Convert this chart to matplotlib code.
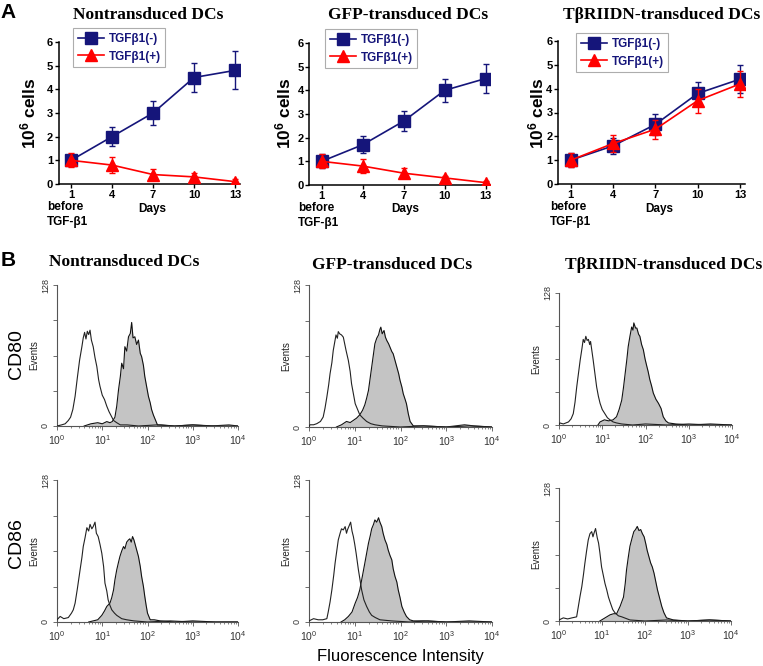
import numpy as np
import matplotlib
matplotlib.use('Agg')
import matplotlib.pyplot as plt
from matplotlib.lines import Line2D
from matplotlib.ticker import LogLocator, NullFormatter

plt.rcParams['font.family'] = ['Liberation Sans', 'DejaVu Sans']
plt.rcParams['mathtext.fontset'] = 'custom'
plt.rcParams['mathtext.rm'] = 'Liberation Sans'
plt.rcParams['mathtext.bf'] = 'Liberation Sans:bold'
plt.rcParams['mathtext.it'] = 'Liberation Sans:italic'

# ---------------- DATA: panel A (growth curves) ----------------
DAYS = [1, 4, 7, 10, 13]
A_TITLES = ["Nontransduced DCs", "GFP-transduced DCs", "TβRIIDN-transduced DCs"]
LEGEND_LABELS = ["TGFβ1(-)", "TGFβ1(+)"]

NT_NEG = [1.0, 2.0, 3.0, 4.5, 4.8]
NT_NEG_ERR = [0.25, 0.4, 0.5, 0.6, 0.8]
NT_POS = [1.0, 0.8, 0.4, 0.3, 0.1]
NT_POS_ERR = [0.3, 0.35, 0.25, 0.15, 0.1]

GFP_NEG = [1.0, 1.7, 2.7, 4.0, 4.5]
GFP_NEG_ERR = [0.3, 0.36, 0.42, 0.5, 0.6]
GFP_POS = [1.0, 0.8, 0.5, 0.3, 0.1]
GFP_POS_ERR = [0.3, 0.3, 0.2, 0.1, 0.08]

DN_NEG = [1.0, 1.6, 2.5, 3.8, 4.4]
DN_NEG_ERR = [0.3, 0.35, 0.45, 0.5, 0.6]
DN_POS = [1.0, 1.7, 2.3, 3.5, 4.2]
DN_POS_ERR = [0.3, 0.35, 0.4, 0.5, 0.55]

# ---------------- DATA: panel B (flow histograms, log10 intensity vs events) ----------------
B_TITLES = ["Nontransduced DCs", "GFP-transduced DCs", "TβRIIDN-transduced DCs"]
B_ROWS = ["CD80", "CD86"]
X_TICK_LABELS = [r"$10^{0}$", r"$10^{1}$", r"$10^{2}$", r"$10^{3}$", r"$10^{4}$"]

NT_CD80_OPEN_L = [0.00, 0.10, 0.18, 0.25, 0.30, 0.35, 0.40, 0.45, 0.50, 0.55, 0.58, 0.61, 0.64, 0.67, 0.70, 0.73, 0.76, 0.80, 0.84, 0.88, 0.92, 0.95, 1.00, 1.05, 1.10, 1.15, 1.20, 1.25, 1.32, 1.40, 1.55, 1.80, 2.20, 2.60, 3.00, 3.40, 3.80, 4.00]
NT_CD80_OPEN_C = [0, 1, 2, 5, 8, 15, 27, 44, 60, 72, 80, 85, 79, 86, 83, 87, 78, 72, 62, 54, 42, 36, 28, 24, 18, 13, 9, 5, 3, 1, 1, 0, 1, 0, 1, 0, 1, 0]
NT_CD80_FILL_L = [0.60, 0.75, 0.90, 1.00, 1.10, 1.17, 1.22, 1.28, 1.32, 1.36, 1.40, 1.43, 1.47, 1.50, 1.54, 1.58, 1.62, 1.65, 1.68, 1.72, 1.76, 1.80, 1.84, 1.87, 1.91, 1.94, 1.98, 2.02, 2.06, 2.09, 2.13, 2.17, 2.22, 2.30, 2.60, 3.00, 3.50, 4.00]
NT_CD80_FILL_C = [0, 2, 3, 2, 4, 3, 4, 8, 18, 33, 45, 57, 52, 72, 68, 81, 84, 94, 80, 81, 74, 78, 66, 63, 55, 45, 36, 27, 21, 15, 10, 6, 1, 1, 0, 1, 0, 0]

NT_CD86_OPEN_L = [0.00, 0.07, 0.15, 0.25, 0.32, 0.36, 0.40, 0.45, 0.51, 0.55, 0.58, 0.62, 0.66, 0.70, 0.73, 0.77, 0.80, 0.84, 0.87, 0.91, 0.95, 0.99, 1.03, 1.06, 1.10, 1.13, 1.17, 1.21, 1.27, 1.32, 1.43, 1.54, 1.70, 2.00, 2.50, 3.00, 3.50, 4.00]
NT_CD86_OPEN_C = [2, 5, 3, 4, 8, 11, 17, 30, 47, 58, 68, 76, 85, 82, 88, 84, 86, 90, 80, 77, 70, 62, 50, 35, 28, 20, 15, 11, 8, 6, 3, 2, 1, 0, 1, 0, 0, 0]
NT_CD86_FILL_L = [0.70, 0.80, 0.90, 0.99, 1.05, 1.10, 1.17, 1.21, 1.25, 1.28, 1.32, 1.36, 1.39, 1.43, 1.47, 1.50, 1.54, 1.58, 1.61, 1.64, 1.67, 1.70, 1.72, 1.76, 1.80, 1.84, 1.87, 1.91, 1.94, 1.97, 2.00, 2.06, 2.15, 2.28, 2.60, 3.00, 3.50, 4.00]
NT_CD86_FILL_C = [0, 1, 2, 6, 10, 14, 17, 22, 29, 38, 47, 54, 59, 64, 68, 66, 72, 74, 75, 72, 77, 74, 71, 65, 59, 50, 41, 32, 23, 15, 8, 2, 2, 1, 0, 1, 0, 0]

GFP_CD80_OPEN_L = [0.00, 0.02, 0.10, 0.17, 0.25, 0.31, 0.35, 0.39, 0.43, 0.46, 0.50, 0.53, 0.56, 0.59, 0.62, 0.64, 0.67, 0.71, 0.75, 0.78, 0.81, 0.86, 0.90, 0.93, 0.97, 1.01, 1.06, 1.11, 1.18, 1.26, 1.35, 1.44, 1.60, 2.00, 2.50, 3.00, 3.40, 3.60, 4.00]
GFP_CD80_OPEN_C = [0, 2, 2, 3, 5, 9, 17, 27, 38, 48, 58, 69, 76, 83, 80, 86, 84, 83, 81, 75, 69, 60, 50, 39, 30, 21, 16, 11, 8, 5, 3, 2, 1, 0, 1, 0, 2, 1, 0]
GFP_CD80_FILL_L = [0.60, 0.71, 0.82, 0.90, 0.97, 1.04, 1.11, 1.17, 1.22, 1.26, 1.30, 1.34, 1.37, 1.41, 1.44, 1.48, 1.52, 1.55, 1.57, 1.60, 1.64, 1.67, 1.70, 1.74, 1.77, 1.81, 1.84, 1.88, 1.92, 1.96, 1.99, 2.03, 2.06, 2.10, 2.13, 2.17, 2.21, 2.28, 2.50, 3.00, 3.50, 4.00]
GFP_CD80_FILL_C = [0, 2, 5, 4, 6, 8, 11, 15, 20, 26, 33, 45, 54, 66, 75, 80, 83, 88, 90, 84, 87, 81, 78, 75, 72, 68, 66, 60, 54, 48, 42, 36, 30, 25, 21, 12, 5, 1, 1, 0, 1, 0]

GFP_CD86_OPEN_L = [0.00, 0.10, 0.20, 0.30, 0.39, 0.42, 0.46, 0.50, 0.54, 0.57, 0.61, 0.64, 0.68, 0.71, 0.75, 0.79, 0.82, 0.84, 0.88, 0.91, 0.94, 0.97, 1.00, 1.03, 1.08, 1.15, 1.20, 1.26, 1.32, 1.37, 1.45, 1.55, 1.80, 2.20, 2.60, 3.00, 3.50, 4.00]
GFP_CD86_OPEN_C = [1, 3, 2, 2, 3, 9, 18, 29, 42, 53, 65, 74, 80, 84, 83, 86, 80, 83, 87, 90, 82, 77, 70, 62, 47, 29, 20, 14, 9, 6, 4, 2, 1, 0, 1, 0, 0, 0]
GFP_CD86_FILL_L = [0.70, 0.78, 0.86, 0.94, 1.01, 1.06, 1.11, 1.17, 1.22, 1.26, 1.30, 1.34, 1.37, 1.41, 1.44, 1.48, 1.52, 1.55, 1.59, 1.62, 1.66, 1.70, 1.73, 1.77, 1.81, 1.84, 1.88, 1.92, 1.95, 1.99, 2.03, 2.08, 2.13, 2.20, 2.28, 2.50, 3.00, 3.50, 4.00]
GFP_CD86_FILL_C = [0, 2, 5, 9, 17, 22, 29, 42, 53, 62, 71, 78, 84, 88, 92, 90, 94, 90, 86, 80, 74, 70, 65, 60, 56, 48, 41, 36, 29, 22, 14, 9, 5, 2, 1, 1, 0, 1, 0]

DN_CD80_OPEN_L = [0.00, 0.02, 0.10, 0.22, 0.28, 0.33, 0.37, 0.41, 0.45, 0.49, 0.53, 0.56, 0.59, 0.62, 0.65, 0.68, 0.71, 0.73, 0.76, 0.79, 0.83, 0.87, 0.91, 0.95, 1.00, 1.06, 1.12, 1.18, 1.25, 1.33, 1.45, 1.70, 2.00, 2.50, 3.00, 3.50, 4.00]
DN_CD80_OPEN_C = [0, 2, 1, 3, 6, 11, 22, 37, 50, 63, 74, 83, 80, 86, 82, 83, 78, 81, 72, 63, 50, 37, 28, 21, 15, 11, 7, 5, 3, 2, 1, 0, 1, 0, 1, 0, 0]
DN_CD80_FILL_L = [0.90, 0.95, 1.05, 1.15, 1.25, 1.33, 1.39, 1.45, 1.49, 1.53, 1.57, 1.60, 1.64, 1.68, 1.71, 1.73, 1.77, 1.80, 1.84, 1.87, 1.91, 1.95, 1.99, 2.03, 2.06, 2.10, 2.14, 2.18, 2.24, 2.30, 2.36, 2.41, 2.47, 2.53, 2.70, 3.00, 3.50, 4.00]
DN_CD80_FILL_C = [0, 3, 5, 4, 5, 8, 15, 24, 36, 50, 64, 76, 86, 95, 92, 99, 94, 94, 88, 86, 78, 73, 64, 57, 52, 44, 38, 31, 25, 21, 16, 8, 4, 2, 1, 0, 1, 0]

DN_CD86_OPEN_L = [0.00, 0.10, 0.20, 0.30, 0.41, 0.45, 0.49, 0.53, 0.57, 0.60, 0.64, 0.68, 0.72, 0.76, 0.79, 0.81, 0.85, 0.89, 0.92, 0.95, 0.99, 1.03, 1.07, 1.11, 1.15, 1.19, 1.25, 1.30, 1.38, 1.46, 1.65, 2.00, 2.50, 3.00, 3.50, 4.00]
DN_CD86_OPEN_C = [1, 3, 2, 3, 4, 14, 24, 33, 45, 55, 67, 78, 84, 86, 81, 84, 89, 80, 75, 66, 52, 44, 36, 30, 23, 18, 11, 8, 5, 4, 1, 0, 1, 0, 1, 0]
DN_CD86_FILL_L = [0.95, 1.07, 1.19, 1.27, 1.34, 1.42, 1.50, 1.54, 1.57, 1.61, 1.65, 1.70, 1.74, 1.78, 1.82, 1.86, 1.90, 1.94, 1.98, 2.02, 2.05, 2.09, 2.13, 2.17, 2.21, 2.25, 2.29, 2.34, 2.39, 2.44, 2.50, 2.58, 2.66, 3.00, 3.50, 4.00]
DN_CD86_FILL_C = [0, 3, 6, 7, 7, 14, 23, 36, 49, 61, 72, 80, 86, 88, 91, 87, 88, 84, 81, 74, 68, 62, 56, 52, 46, 38, 30, 22, 14, 8, 3, 2, 1, 0, 1, 0]

# ---------------- figure ----------------
W, H = 763, 666
fig = plt.figure(figsize=(W / 100, H / 100), dpi=100)


def px_axes(left, top, right, bottom):
    return fig.add_axes([left / W, 1 - bottom / H, (right - left) / W, (bottom - top) / H])


def ftext(x, y, s, **kw):
    return fig.text(x / W, 1 - y / H, s, **kw)


NAVY = '#15157a'
RED = '#ff0000'
SERIF = ['Liberation Serif', 'DejaVu Serif']

A_SERIES = [
    (NT_NEG, NT_NEG_ERR, NT_POS, NT_POS_ERR),
    (GFP_NEG, GFP_NEG_ERR, GFP_POS, GFP_POS_ERR),
    (DN_NEG, DN_NEG_ERR, DN_POS, DN_POS_ERR),
]
A_BOX = [(58.7, 42, 239.8, 184), (309.4, 43, 490.5, 185), (558, 41, 745, 184)]
A_TITLE_X = [148, 408, 662]
A_YLAB_X = [28, 283, 536]
A_DAYS_X = [152, 405, 659]
A_BEFORE_X = [47, 298, 550]
A_LEG = [(73, 28), (325, 29), (576, 33)]

for i in range(3):
    neg, neg_err, pos, pos_err = A_SERIES[i]
    box = A_BOX[i]
    ax = px_axes(*box)
    ax.errorbar(DAYS, neg, yerr=neg_err, color=NAVY, marker='s', ms=8, lw=1.2,
                elinewidth=1.0, capsize=2, capthick=1.0, zorder=3)
    ax.errorbar(DAYS, pos, yerr=pos_err, color=RED, marker='^', ms=9, lw=1.2,
                elinewidth=1.0, capsize=2, capthick=1.0, zorder=4)
    ax.set_xlim(0.1, 13.35)
    ax.set_ylim(0, 6)
    ax.set_xticks(DAYS)
    ax.set_yticks(range(7))
    for s in ('top', 'right'):
        ax.spines[s].set_visible(False)
    for s in ('left', 'bottom'):
        ax.spines[s].set_linewidth(1.1)
    ax.tick_params(labelsize=8, length=3, width=1.0, pad=1.0)
    for lab in ax.get_xticklabels() + ax.get_yticklabels():
        lab.set_fontweight('bold')
    ax.patch.set_alpha(0)
    handles = [Line2D([], [], color=NAVY, marker='s', ms=8, lw=1.2),
               Line2D([], [], color=RED, marker='^', ms=9, lw=1.2)]
    lx, ly = A_LEG[i]
    leg = ax.legend(handles, LEGEND_LABELS, loc='upper left',
                    bbox_to_anchor=(lx / W, 1 - ly / H), bbox_transform=fig.transFigure,
                    frameon=True, fancybox=False, edgecolor='#999999',
                    prop={'weight': 'bold', 'size': 8.5}, labelcolor=NAVY,
                    handlelength=2.2, borderpad=0.4, labelspacing=0.5,
                    handletextpad=0.4, borderaxespad=0)
    leg.get_frame().set_linewidth(0.8)
    ftext(A_TITLE_X[i], 15, A_TITLES[i], family=SERIF, fontweight='bold',
          fontsize=12.5, ha='center', va='center')
    ftext(A_YLAB_X[i], 113, r'$\mathbf{10^{6}}$ cells', rotation=90, fontweight='bold',
          fontsize=12.5, ha='center', va='center')
    ftext(A_DAYS_X[i], 209, 'Days', fontweight='bold', fontsize=8.5, ha='center', va='center')
    ftext(A_BEFORE_X[i], box[3] + 23, 'before', fontweight='bold', fontsize=8.5,
          ha='left', va='center')
    ftext(A_BEFORE_X[i], box[3] + 38, 'TGF-β1', fontweight='bold', fontsize=8.5,
          ha='left', va='center')

ftext(8, 12, 'A', fontweight='bold', fontsize=15, ha='center', va='center')
ftext(8, 260, 'B', fontweight='bold', fontsize=15, ha='center', va='center')

# ---------------- panel B ----------------
B_DATA = [
    [(NT_CD80_OPEN_L, NT_CD80_OPEN_C, NT_CD80_FILL_L, NT_CD80_FILL_C),
     (GFP_CD80_OPEN_L, GFP_CD80_OPEN_C, GFP_CD80_FILL_L, GFP_CD80_FILL_C),
     (DN_CD80_OPEN_L, DN_CD80_OPEN_C, DN_CD80_FILL_L, DN_CD80_FILL_C)],
    [(NT_CD86_OPEN_L, NT_CD86_OPEN_C, NT_CD86_FILL_L, NT_CD86_FILL_C),
     (GFP_CD86_OPEN_L, GFP_CD86_OPEN_C, GFP_CD86_FILL_L, GFP_CD86_FILL_C),
     (DN_CD86_OPEN_L, DN_CD86_OPEN_C, DN_CD86_FILL_L, DN_CD86_FILL_C)],
]
B_BOX = [
    [(57, 285, 238, 426), (309, 285, 492, 427), (559, 293, 732, 425)],
    [(57, 480, 238, 622), (309, 480, 492, 622), (559, 488, 731, 621)],
]
B_TITLE_POS = [(124, 262), (392, 265), (664, 265)]
B_ROW_Y = [354, 543]

for r in range(2):
    for c in range(3):
        lo, co, lf, cf = B_DATA[r][c]
        box = B_BOX[r][c]
        ax = px_axes(*box)
        xo = np.power(10.0, lo)
        xf = np.power(10.0, lf)
        ax.fill_between(xf, cf, 0, color='#c4c4c4', lw=0, zorder=1)
        ax.plot(xf, cf, color='#111111', lw=0.8, zorder=2)
        ax.plot(xo, co, color='#222222', lw=0.8, zorder=3)
        ax.set_xscale('log')
        ax.set_xlim(1, 1e4)
        ax.set_ylim(0, 128)
        for s in ('top', 'right'):
            ax.spines[s].set_visible(False)
        for s in ('left', 'bottom'):
            ax.spines[s].set_linewidth(0.8)
            ax.spines[s].set_color('#555555')
        ax.set_xticks([1, 10, 100, 1000, 10000])
        ax.set_xticklabels(X_TICK_LABELS)
        ax.xaxis.set_minor_locator(LogLocator(base=10, subs=np.arange(2, 10), numticks=20))
        ax.xaxis.set_minor_formatter(NullFormatter())
        ax.set_yticks([0, 32, 64, 96, 128])
        ax.set_yticklabels(['0', '', '', '', '128'], rotation=90, va='center')
        ax.tick_params(axis='both', which='major', labelsize=7.5, length=3, width=0.6,
                       colors='#555555', labelcolor='#333333', pad=2)
        ax.tick_params(axis='y', which='major', labelsize=6.5)
        ax.tick_params(axis='x', which='minor', length=1.5, width=0.5, colors='#555555')
        ax.patch.set_alpha(0)
        ftext(box[0] - 23, (box[1] + box[3]) / 2, 'Events', rotation=90, fontsize=7,
              ha='center', va='center', color='#222222')
    ftext(16, B_ROW_Y[r], B_ROWS[r], rotation=90, fontsize=14, ha='center', va='center')

for c in range(3):
    x, y = B_TITLE_POS[c]
    ftext(x, y, B_TITLES[c], family=SERIF, fontweight='bold', fontsize=12.5,
          ha='center', va='center')

ftext(400, 657, 'Fluorescence Intensity', fontsize=12, ha='center', va='center')

fig.savefig('out.png', dpi=100)
